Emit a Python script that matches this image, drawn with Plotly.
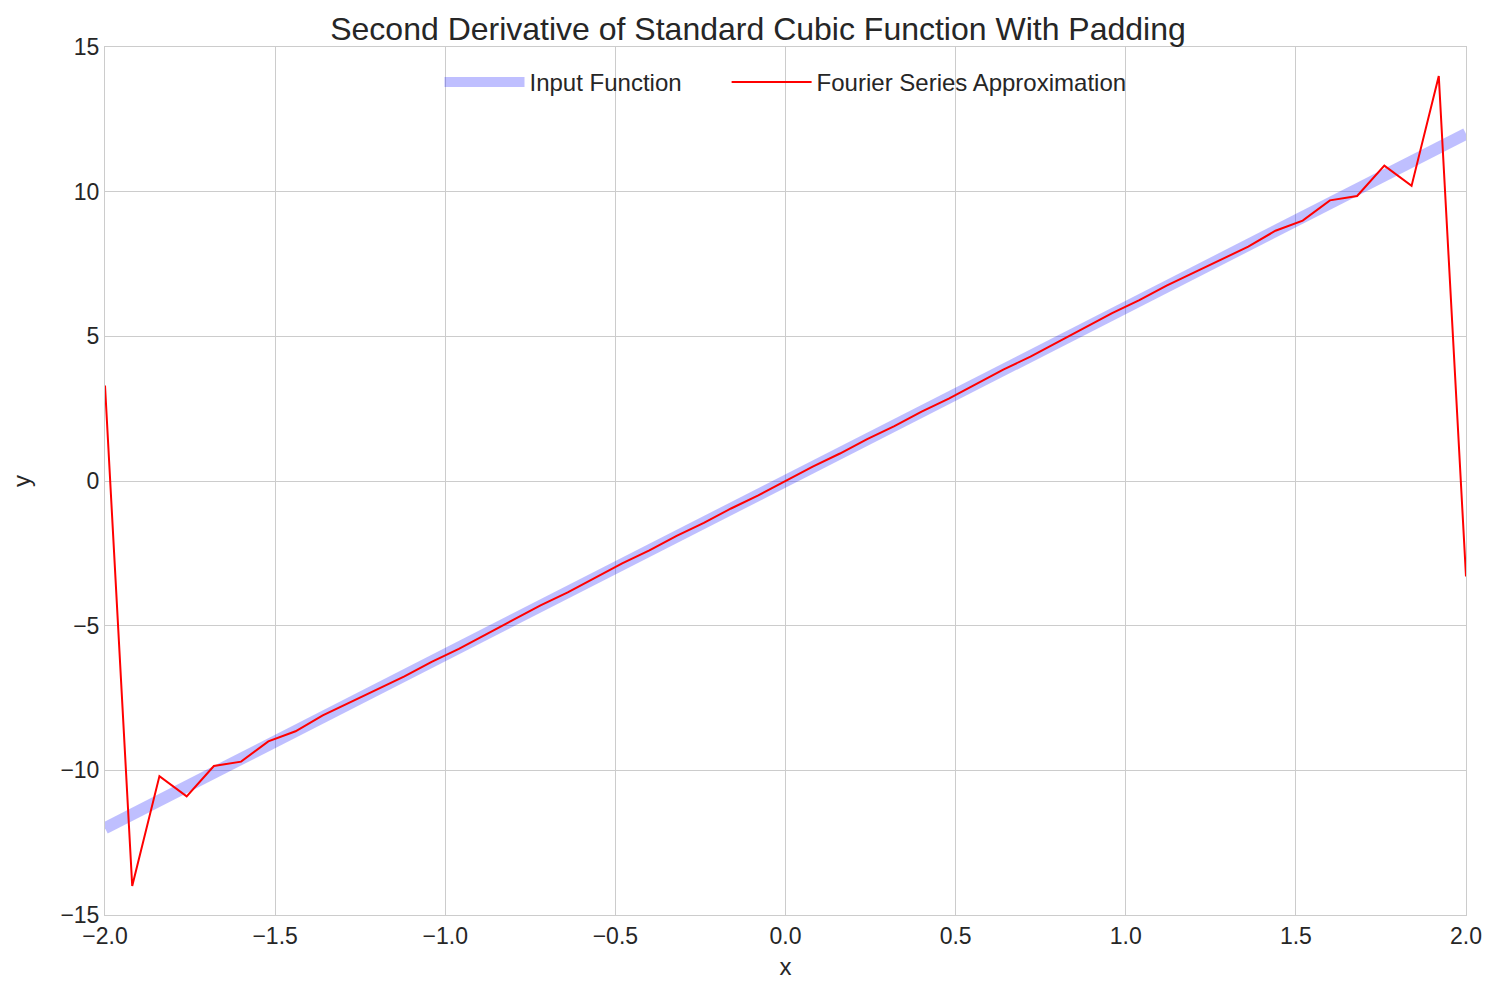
import plotly.graph_objects as go

# Input function (straight line, second derivative of cubic)
x_input = [-2.0, 2.0]
y_input = [-12.0, 12.0]

# Fourier series approximation sampled points
x_fourier = [-2.0, -1.92, -1.84, -1.76, -1.68, -1.6, -1.52, -1.44, -1.36, -1.28,
             -1.2, -1.12, -1.04, -0.96, -0.88, -0.8, -0.72, -0.64, -0.56, -0.48,
             -0.4, -0.32, -0.24, -0.16, -0.08, 0.0, 0.08, 0.16, 0.24, 0.32,
             0.4, 0.48, 0.56, 0.64, 0.72, 0.8, 0.88, 0.96, 1.04, 1.12,
             1.2, 1.28, 1.36, 1.44, 1.52, 1.6, 1.68, 1.76, 1.84, 1.92, 2.0]
y_fourier = [3.3, -14.0, -10.2, -10.9, -9.85, -9.7, -9.0, -8.65, -8.1, -7.65,
             -7.2, -6.75, -6.25, -5.8, -5.3, -4.8, -4.3, -3.85, -3.35, -2.85,
             -2.4, -1.9, -1.45, -0.95, -0.5, 0.0, 0.5, 0.95, 1.45, 1.9,
             2.4, 2.85, 3.35, 3.85, 4.3, 4.8, 5.3, 5.8, 6.25, 6.75,
             7.2, 7.65, 8.1, 8.65, 9.0, 9.7, 9.85, 10.9, 10.2, 14.0, -3.3]

fig = go.Figure()
fig.add_trace(go.Scatter(x=x_input, y=y_input, mode="lines", name="Input Function      ",
                         line=dict(color="rgba(0,0,255,0.25)", width=12)))
fig.add_trace(go.Scatter(x=x_fourier, y=y_fourier, mode="lines",
                         name="Fourier Series Approximation",
                         line=dict(color="red", width=2)))

axis = dict(showgrid=True, gridcolor="#cccccc", gridwidth=1, zeroline=False,
            showline=True, linecolor="#cccccc", mirror=True, ticks="",
            tickfont=dict(size=23, color="#262626"))
fig.update_layout(
    width=1500, height=1000,
    paper_bgcolor="white", plot_bgcolor="white",
    font=dict(family="Liberation Sans, Arial, sans-serif", color="#262626"),
    title=dict(text="Second Derivative of Standard Cubic Function With Padding",
               x=0.5, xanchor="center", y=0.99, yanchor="top",
               font=dict(size=32)),
    margin=dict(l=97, r=42, t=39, b=93),
    xaxis=dict(axis, range=[-2, 2], dtick=0.5, tickformat=".1f",
               title=dict(text="x", font=dict(size=24), standoff=10)),
    yaxis=dict(axis, range=[-15, 15], dtick=5,
               title=dict(text="y", font=dict(size=24), standoff=22)),
    legend=dict(orientation="h", x=0.5, xanchor="center", y=0.985, yanchor="top",
                font=dict(size=24), bgcolor="rgba(0,0,0,0)", itemwidth=80),
    showlegend=True,
)
fig.write_html("out.html")
